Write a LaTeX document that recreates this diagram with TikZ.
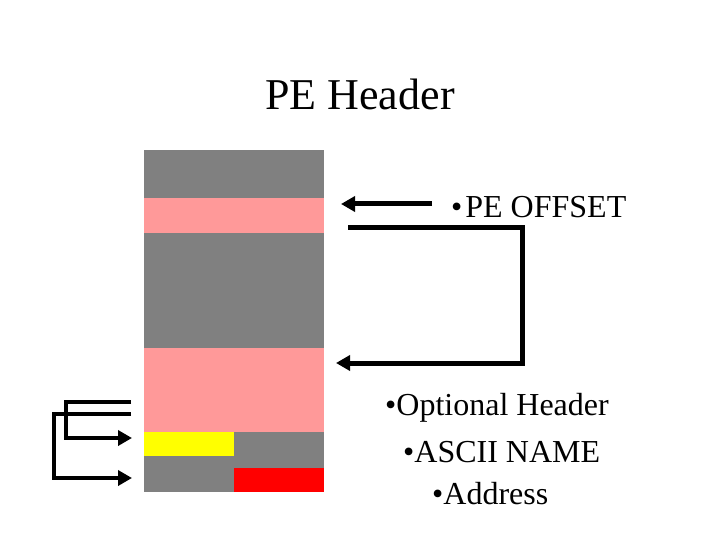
\documentclass[tikz,border=0pt]{standalone}
\usepackage{fontspec}
\setmainfont{Liberation Serif}
\usetikzlibrary{arrows.meta}
\definecolor{blkgray}{HTML}{808080}
\definecolor{blkpink}{HTML}{FF9999}
\definecolor{blkyellow}{HTML}{FFFF00}
\definecolor{blkred}{HTML}{FF0000}
\tikzset{
  block/.style={draw=none, inner sep=0pt, outer sep=0pt},
  conn/.style={line width=5pt, -{Triangle[length=14pt,width=15pt]}},
  bodytext/.style={anchor=base west, inner sep=0pt, font=\fontsize{32}{36}\selectfont},
}
\begin{document}
\begin{tikzpicture}[x=1pt,y=-1pt]
\useasboundingbox (0,0) rectangle (720,540);
% title
\node[anchor=base, inner sep=0pt, font=\fontsize{44}{48}\selectfont] (title) at (360,110) {PE Header};
% column blocks
\node[block, fill=blkgray, minimum width=180pt, minimum height=48pt] (g1) at (234,174) {};
\node[block, fill=blkpink, minimum width=180pt, minimum height=35pt] (p1) at (234,215.5) {};
\node[block, fill=blkgray, minimum width=180pt, minimum height=115pt] (g2) at (234,290.5) {};
\node[block, fill=blkpink, minimum width=180pt, minimum height=84pt] (p2) at (234,390) {};
\node[block, fill=blkyellow, minimum width=90pt, minimum height=24pt] (ye) at (189,444) {};
\node[block, fill=blkgray, minimum width=90pt, minimum height=36pt] (g3) at (279,450) {};
\node[block, fill=blkgray, minimum width=90pt, minimum height=36pt] (g4) at (189,474) {};
\node[block, fill=blkred, minimum width=90pt, minimum height=24pt] (rd) at (279,480) {};
% texts
\node[bodytext] (peoff) at (451,218) {•\kern3pt PE OFFSET};
\node[bodytext] (opt) at (385,415) {•Optional Header};
\node[bodytext] (ascii) at (403,462) {•ASCII NAME};
\node[bodytext] (addr) at (432,504) {•Address};
% connector coordinates
\coordinate (a1s) at (432,204);
\coordinate (a1e) at (341,204);
\coordinate (a2s) at (348,228);
\coordinate (a2c1) at (522,228);
\coordinate (a2c2) at (522,363);
\coordinate (a2e) at (336,363);
\coordinate (b1s) at (131,402);
\coordinate (b1c1) at (66,402);
\coordinate (b1c2) at (66,438);
\coordinate (b1e) at (132,438);
\coordinate (b2s) at (131,414);
\coordinate (b2c1) at (54,414);
\coordinate (b2c2) at (54,478);
\coordinate (b2e) at (132,478);
% connectors
\draw[conn] (a1s) -- (a1e);
\draw[conn] (a2s) -- (a2c1) -- (a2c2) -- (a2e);
\draw[conn, line width=4.5pt] (b1s) -- (b1c1) -- (b1c2) -- (b1e);
\draw[conn, line width=4.5pt] (b2s) -- (b2c1) -- (b2c2) -- (b2e);
\end{tikzpicture}
\end{document}
